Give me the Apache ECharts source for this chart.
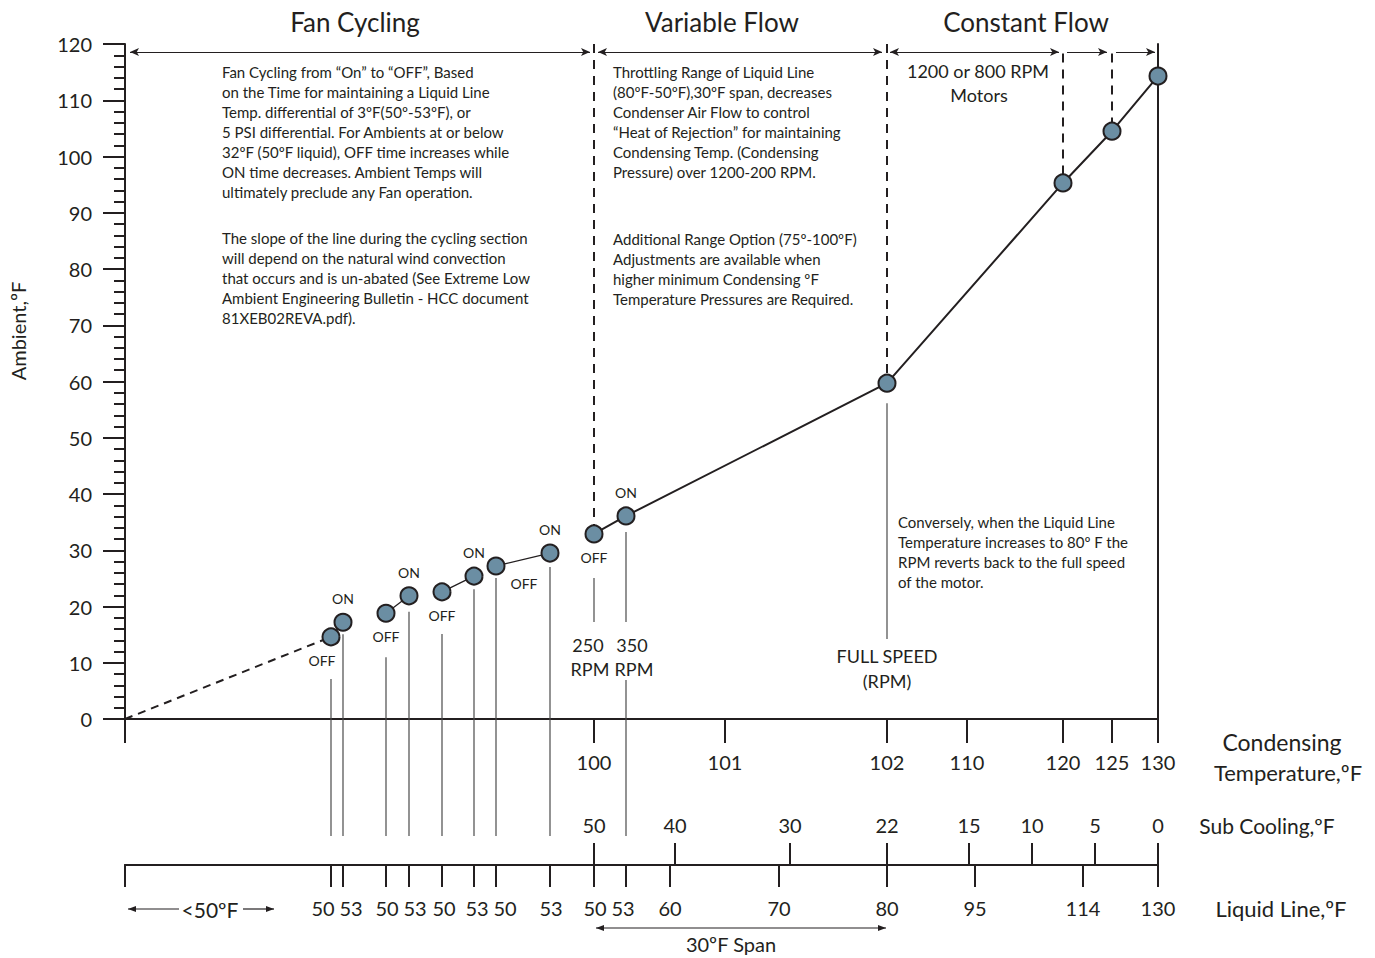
<!DOCTYPE html>
<html><head><meta charset="utf-8">
<script src="https://cdn.jsdelivr.net/npm/echarts@6/dist/echarts.min.js"></script>
<style>html,body{margin:0;padding:0;background:#fff}#c{width:1375px;height:958px}</style>
</head><body><div id="c"></div>
<script>
// ---------------- data ----------------
// schematic x position along the chart (axis units), ambient temperature (°F)
const xPos    = [206, 218, 261, 284, 317, 349, 371, 425, 469, 501, 762, 938, 987, 1033];
const ambient = [14.6, 17.2, 18.8, 21.9, 22.6, 25.4, 27.2, 29.5, 32.9, 36.1, 59.7, 95.3, 104.5, 114.3];
const fanState = ['OFF','ON','OFF','ON','OFF','ON','OFF','ON','OFF','ON','','','',''];
const fanPairs = [[0,1],[2,3],[4,5],[6,7]];
const mainRun = [8,9,10,11,12,13];

const condPos    = [469, 600, 762, 842, 938, 987, 1033];
const condLabels = ['100','101','102','110','120','125','130'];

const subPos    = [469, 550, 665, 762, 844, 907, 970, 1033];
const subLabels = ['50','40','30','22','15','10','5','0'];

const liquidTickPos  = [0, 206, 218, 261, 284, 317, 349, 371, 425, 469, 501, 545, 654, 762, 850, 958, 1033];
const liquidLabelPos = [198, 226, 262, 290, 319, 352, 380, 426, 470, 498, 545, 654, 762, 850, 958, 1033];
const liquidLabels   = ['50','53','50','53','50','53','50','53','50','53','60','70','80','95','114','130'];

const regionTitles = ['Fan Cycling', 'Variable Flow', 'Constant Flow'];

const fanText1 = ['Fan Cycling from \u201cOn\u201d to \u201cOFF\u201d, Based','on the Time for maintaining a Liquid Line','Temp. differential of 3\u00baF(50\u00ba-53\u00baF), or','5 PSI differential. For Ambients at or below','32\u00baF (50\u00baF liquid), OFF time increases while','ON time decreases. Ambient Temps will','ultimately preclude any Fan operation.'];
const fanText2 = ['The slope of the line during the cycling section','will depend on the natural wind convection','that occurs and is un-abated (See Extreme Low','Ambient Engineering Bulletin - HCC document','81XEB02REVA.pdf).'];
const varText1 = ['Throttling Range of Liquid Line','(80\u00baF-50\u00baF),30\u00baF span, decreases','Condenser Air Flow to control','\u201cHeat of Rejection\u201d for maintaining','Condensing Temp. (Condensing','Pressure) over 1200-200 RPM.'];
const varText2 = ['Additional Range Option (75\u00ba-100\u00baF)','Adjustments are available when','higher minimum Condensing \u00baF','Temperature Pressures are Required.'];
const convText = ['Conversely, when the Liquid Line','Temperature increases to 80\u00ba F the','RPM reverts back to the full speed','of the motor.'];

// ---------------- chart ----------------
const INK = '#231f20';
const FONT = 'Lato, "Open Sans", sans-serif';
const pt = i => [xPos[i], ambient[i]];
const chart = echarts.init(document.getElementById('c'), null, {renderer: 'svg'});

const leaderSpecs = [
  {i:0,gap:42,end:117},{i:1,gap:12,end:117},{i:2,gap:44,end:117},{i:3,gap:16,end:117},
  {i:4,gap:42,end:117},{i:5,gap:13,end:117},{i:6,gap:12,end:117},{i:7,gap:14,end:117},
  {i:8,gap:44,end:-97},{i:9,gap:16,end:-97,more:[-39,117]},{i:10,gap:20,end:-80}
];

function txt(text, x, y, size, align, lh, vAlign) {
  return {type:'text', x:x, y:y, silent:true, style:{text:text, fill:INK, font: size + 'px ' + FONT,
    align: align || 'center', verticalAlign: vAlign || 'middle', lineHeight: lh || size * 1.2}};
}
function block(lines, x, yFirst, size, lh) {
  return {type:'text', x:x, y:yFirst - lh/2, silent:true, style:{text: lines.join('\n'), fill:INK,
    font: size + 'px ' + FONT, align:'left', verticalAlign:'top', lineHeight: lh}};
}
function arrowG(x1, x2, y, headL, headR) {
  const ch = [{type:'line', shape:{x1:x1, y1:y, x2:x2, y2:y}, style:{stroke:INK, lineWidth:1.2}}];
  if (headL) ch.push({type:'polygon', shape:{points:[[x1,y],[x1+8,y-3],[x1+8,y+3]]}, style:{fill:INK}});
  if (headR) ch.push({type:'polygon', shape:{points:[[x2,y],[x2-8,y-3],[x2-8,y+3]]}, style:{fill:INK}});
  return {type:'group', silent:true, children: ch};
}

const arrowY = 118.6;
const arrowMarks = {
  silent: true, symbolSize: [6, 9], label: {show:false},
  lineStyle: {color: INK, width: 1.2, type: 'solid'},
  data: [
    [{coord:[5, arrowY], symbol:'arrow'}, {coord:[465, arrowY], symbol:'arrow'}],
    [{coord:[473, arrowY], symbol:'arrow'}, {coord:[757, arrowY], symbol:'arrow'}],
    [{coord:[765, arrowY], symbol:'arrow'}, {coord:[934, arrowY], symbol:'arrow'}],
    [{coord:[942, arrowY], symbol:'none'}, {coord:[982, arrowY], symbol:'arrow'}],
    [{coord:[991, arrowY], symbol:'none'}, {coord:[1030, arrowY], symbol:'arrow'}]
  ]
};
const guideMarks = {
  silent: true, symbol: 'none', label: {show:false},
  lineStyle: {color: INK, width: 2, type: [9, 7]},
  data: [
    [{coord:[xPos[8], 120]}, {coord:[xPos[8], ambient[8] + 1.6]}],
    [{coord:[xPos[10], 120]}, {coord:[xPos[10], ambient[10] + 1.6]}],
    [{coord:[xPos[11], 118.3]}, {coord:[xPos[11], ambient[11] + 1.6]}],
    [{coord:[xPos[12], 118.3]}, {coord:[xPos[12], ambient[12] + 1.6]}]
  ]
};

const series = [];
series.push({type:'line', name:'lead', data:[[0,0], pt(0)], symbol:'none', silent:true,
  lineStyle:{type:[8,6], width:2, color:INK}, markLine: guideMarks, z:3});
fanPairs.forEach(p => series.push({type:'line', data:[pt(p[0]), pt(p[1])], symbol:'none', silent:true,
  lineStyle:{width:1.3, color:INK}, z:3}));
series.push({type:'line', name:'main', data: mainRun.map(pt), symbol:'none', silent:true,
  lineStyle:{width:2, color:INK}, markLine: arrowMarks, z:3});
series.push({type:'custom', silent:true, z:2,
  data: leaderSpecs.map(s => [xPos[s.i], ambient[s.i]]),
  encode: {x:0, y:1},
  renderItem: function(params, api) {
    const s = leaderSpecs[params.dataIndex];
    const p = api.coord([api.value(0), api.value(1)]);
    const b = api.coord([api.value(0), 0])[1];
    const st = {stroke:'#4a4a4a', lineWidth:1.2};
    const ch = [{type:'line', shape:{x1:p[0], y1:p[1] + s.gap, x2:p[0], y2:b + s.end}, style:st}];
    if (s.more) ch.push({type:'line', shape:{x1:p[0], y1:b + s.more[0], x2:p[0], y2:b + s.more[1]}, style:st});
    return {type:'group', children: ch};
  }
});
series.push({type:'scatter', name:'Ambient', symbol:'circle', symbolSize:17, z:10, silent:true,
  itemStyle:{color:'#6b8ea3', borderColor:INK, borderWidth:2, opacity:1},
  data: xPos.map((x, i) => {
    const st = fanState[i];
    const lab = {show: st !== '', formatter: st, fontSize: 14, color: INK, fontFamily: FONT,
      position: st === 'OFF' ? 'bottom' : 'top', distance: 7};
    if (i === 0) lab.offset = [-9, 0];
    if (i === 6) { lab.position = 'right'; lab.offset = [0, 17]; lab.distance = 5; }
    return {value:[x, ambient[i]], label: lab};
  })
});

const axisTxt = {color: INK, fontSize: 20, fontFamily: FONT};
const option = {
  animation: false,
  backgroundColor: '#fff',
  grid: {left:125, top:44, width:1033, height:675, outerBoundsMode:'none', containLabel:false},
  xAxis: [
    {type:'value', min:0, max:1033, splitLine:{show:false},
      axisLine:{show:true, onZero:false, lineStyle:{color:INK, width:2}},
      axisTick:{show:true, customValues:[0].concat(condPos), length:24, lineStyle:{color:INK, width:2}},
      axisLabel:Object.assign({customValues:condPos, margin:33,
        formatter: v => condLabels[condPos.indexOf(v)]}, axisTxt)},
    {type:'value', min:0, max:1033, position:'bottom', offset:146, splitLine:{show:false},
      axisLine:{show:true, onZero:false, lineStyle:{color:INK, width:2}},
      axisTick:{show:true, inside:true, customValues:subPos, length:22, lineStyle:{color:INK, width:2}},
      axisLabel:Object.assign({inside:true, customValues:subPos, margin:30,
        formatter: v => subLabels[subPos.indexOf(v)]}, axisTxt)},
    {type:'value', min:0, max:1033, position:'bottom', offset:146, splitLine:{show:false},
      axisLine:{show:true, onZero:false, lineStyle:{color:INK, width:2}},
      axisTick:{show:true, customValues:liquidTickPos, length:22, lineStyle:{color:INK, width:2}},
      axisLabel:{show:false}},
    {type:'value', min:0, max:1033, position:'bottom', offset:146, splitLine:{show:false},
      axisLine:{show:false}, axisTick:{show:false},
      axisLabel:Object.assign({customValues:liquidLabelPos, margin:33,
        formatter: v => liquidLabels[liquidLabelPos.indexOf(v)]}, axisTxt)}
  ],
  yAxis: [
    {type:'value', min:0, max:120, interval:10, splitLine:{show:false},
      axisLine:{show:true, onZero:false, lineStyle:{color:INK, width:2}},
      axisTick:{show:true, length:22, lineStyle:{color:INK, width:2}},
      minorTick:{show:true, splitNumber:5, length:11, lineStyle:{color:INK, width:2}},
      axisLabel:Object.assign({margin:33}, axisTxt)},
    {type:'value', min:0, max:120, interval:10, position:'right', splitLine:{show:false},
      axisLine:{show:true, onZero:false, lineStyle:{color:INK, width:2}},
      axisTick:{show:false}, axisLabel:{show:false}}
  ],
  series: series,
  graphic: [
    txt(regionTitles[0], 355, 22, 26),
    txt(regionTitles[1], 722, 22, 26),
    txt(regionTitles[2], 1026, 22, 26),
    Object.assign(txt('Ambient,\u00baF', 18, 331, 20), {rotation: Math.PI/2}),
    block(fanText1, 222, 72, 15, 20),
    block(fanText2, 222, 238, 15, 20),
    block(varText1, 613, 72, 15, 20),
    block(varText2, 613, 239, 15, 20),
    block(convText, 898, 522, 15, 20),
    txt('1200 or 800 RPM', 978, 71, 18),
    txt('Motors', 979, 95, 18),
    txt('250', 588, 645, 18), txt('RPM', 590, 669, 18),
    txt('350', 632, 645, 18), txt('RPM', 634, 669, 18),
    txt('FULL SPEED', 887, 656, 18), txt('(RPM)', 887, 681, 18),
    txt('Condensing', 1282, 742, 23),
    txt('Temperature,\u00baF', 1288, 772, 22),
    txt('Sub Cooling,\u00baF', 1267, 825, 21),
    txt('Liquid Line,\u00baF', 1281, 908, 22),
    txt('<50\u00baF', 210, 909, 21),
    arrowG(128, 179, 909, true, false),
    arrowG(243, 274, 909, false, true),
    arrowG(596, 886, 928, true, true),
    txt('30\u00baF Span', 731, 944, 20)
  ]
};
chart.setOption(option);
</script>
</body></html>
